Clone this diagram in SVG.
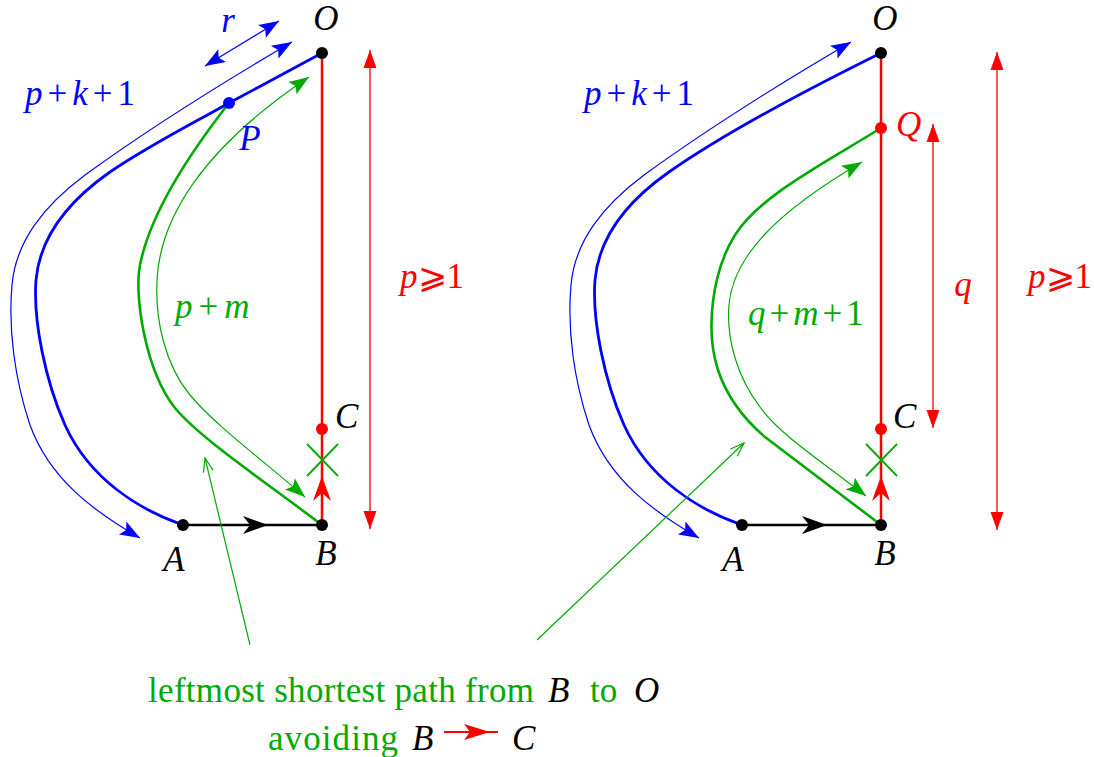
<svg xmlns="http://www.w3.org/2000/svg" width="1094" height="757" viewBox="0 0 1094 757" font-family="Liberation Serif, Times New Roman, DejaVu Serif, serif">
<style>
.m{font-style:italic;font-size:35px}
.u{font-style:normal}
.t{font-size:35px;fill:#00aa00}
.bl{fill:#0000ff}.gr{fill:#00aa00}.rd{fill:#ff0000}.bk{fill:#000}
.thickB{fill:none;stroke:#0000ff;stroke-width:2.8}
.thinB{fill:none;stroke:#0000ff;stroke-width:1.2}
.thickG{fill:none;stroke:#00aa00;stroke-width:2.6}
.thinG{fill:none;stroke:#00aa00;stroke-width:1.2}
.redL{fill:none;stroke:#ff0000;stroke-width:2.5}
.redT{fill:none;stroke:#ff0000;stroke-width:1.3}
.blkL{fill:none;stroke:#000;stroke-width:2.5}
</style>
<defs>
<marker id="bh" markerUnits="userSpaceOnUse" orient="auto-start-reverse" overflow="visible" refX="0" refY="0" markerWidth="1" markerHeight="1"><path d="M0,0 L-20,-7.5 L-16,0 L-20,7.5 Z" fill="#0000ff"/></marker>
<marker id="gh" markerUnits="userSpaceOnUse" orient="auto-start-reverse" overflow="visible" refX="0" refY="0" markerWidth="1" markerHeight="1"><path d="M0,0 L-20,-7.5 L-16,0 L-20,7.5 Z" fill="#00aa00"/></marker>
<marker id="rh" markerUnits="userSpaceOnUse" orient="auto-start-reverse" overflow="visible" refX="0" refY="0" markerWidth="1" markerHeight="1"><path d="M0,0 L-18,-6.5 L-18,6.5 Z" fill="#ff0000"/></marker>
<marker id="go" markerUnits="userSpaceOnUse" orient="auto" overflow="visible" refX="0" refY="0" markerWidth="1" markerHeight="1"><path d="M-14,-5 L0,0 L-14,5" fill="none" stroke="#00aa00" stroke-width="1.2"/></marker>
</defs>
<g id="connectors">
<path class="redL" d="M322,53 L322,525"/>
<path class="thinB" marker-start="url(#bh)" marker-end="url(#bh)" d="M140,538 C95,512 50,480 30,425 C15,380 8,330 12,285 C16,240 45,205 85,175 C140,135 210,90 292,42"/>
<path class="thickB" d="M183,525 C140,510 90,480 65,425 C45,380 33,320 36,280 C40,235 70,200 110,172 C150,145 190,125 229,103 L322,53"/>
<path class="thinB" marker-start="url(#bh)" marker-end="url(#bh)" d="M205,66 L279,21"/>
<path class="thickG" d="M229,103 C200,140 152,205 140,265 C134,295 145,370 175,408 C200,438 260,478 322,525"/>
<path class="thinG" marker-start="url(#gh)" marker-end="url(#gh)" d="M305,497 C260,458 215,425 190,395 C165,365 155,320 157,280 C160,220 200,150 309,77"/>
<path class="blkL" d="M183,525 L322,525"/>
<path d="M268,525 L243,516 L250,525 L243,534 Z" class="bk"/>
<path d="M322,476 L331,501 L322,493 L313,501 Z" class="rd"/>
<path class="thickG" d="M307,444 L338,476 M338,444 L307,476" style="stroke-width:1.8"/>
<path class="redT" marker-start="url(#rh)" marker-end="url(#rh)" d="M370,50 L370,529"/>
<path class="thinG" marker-end="url(#go)" d="M250,645 L205,458"/>
<path class="redL" d="M881,53 L881,525"/>
<path class="thinB" marker-start="url(#bh)" marker-end="url(#bh)" d="M699,538 C654,512 609,480 589,425 C574,380 567,330 571,285 C575,240 604,205 644,175 C699,135 769,90 851,42"/>
<path class="thickB" d="M742,525 C699,510 649,480 624,425 C604,380 592,320 595,280 C599,235 629,200 669,172 C712,142 790,98 881,53"/>
<path class="thickG" d="M881,128 C830,160 760,195 735,235 C712,272 705,330 718,370 C728,400 745,420 765,437 L881,525"/>
<path class="thinG" marker-start="url(#gh)" marker-end="url(#gh)" d="M866,496 C820,460 780,435 760,407 C738,378 726,340 729,305 C733,255 780,210 862,162"/>
<path class="blkL" d="M742,525 L881,525"/>
<path d="M827,525 L802,516 L809,525 L802,534 Z" class="bk"/>
<path d="M881,476 L890,501 L881,493 L872,501 Z" class="rd"/>
<path class="thickG" d="M866,444 L897,476 M897,444 L866,476" style="stroke-width:1.8"/>
<path class="redT" marker-start="url(#rh)" marker-end="url(#rh)" d="M933,124 L933,428"/>
<path class="redT" marker-start="url(#rh)" marker-end="url(#rh)" d="M997,52 L997,530"/>
<path class="thinG" marker-end="url(#go)" d="M537,640 L744,443"/>
<path class="redL" d="M444,732 L498,732" style="stroke-width:2.2"/>
<path d="M490,732 L464,724 L470,732 L464,740 Z" class="rd"/>
</g>
<g id="node-O-left"><circle cx="322" cy="53" r="6" class="bk"/><text class="m bk" x="326" y="30" text-anchor="middle">O</text></g>
<g id="node-P"><circle cx="229" cy="103" r="6" class="bl"/><text class="m bl" x="250" y="150" text-anchor="middle">P</text></g>
<g id="node-C-left"><circle cx="322" cy="429" r="6" class="rd"/><text class="m bk" x="335" y="428">C</text></g>
<g id="node-A-left"><circle cx="183" cy="525" r="6" class="bk"/><text class="m bk" x="174" y="571" text-anchor="middle">A</text></g>
<g id="node-B-left"><circle cx="322" cy="525" r="6" class="bk"/><text class="m bk" x="326" y="565" text-anchor="middle">B</text></g>
<g id="labels-left">
<text class="m bl" x="228" y="32" text-anchor="middle">r</text>
<text class="m bl" x="25" y="105">p<tspan class="u" dx="5">+</tspan><tspan dx="5">k</tspan><tspan class="u" dx="5">+</tspan><tspan class="u" dx="5">1</tspan></text>
<text class="m gr" x="175" y="318">p<tspan class="u" dx="6">+</tspan><tspan dx="6">m</tspan></text>
<text class="m rd" x="400" y="288">p<tspan class="u">⩾1</tspan></text>
</g>
<g id="node-O-right"><circle cx="881" cy="53" r="6" class="bk"/><text class="m bk" x="885" y="30" text-anchor="middle">O</text></g>
<g id="node-Q"><circle cx="881" cy="128" r="6" class="rd"/><text class="m rd" x="896" y="136">Q</text></g>
<g id="node-C-right"><circle cx="881" cy="429" r="6" class="rd"/><text class="m bk" x="893" y="428">C</text></g>
<g id="node-A-right"><circle cx="742" cy="525" r="6" class="bk"/><text class="m bk" x="733" y="571" text-anchor="middle">A</text></g>
<g id="node-B-right"><circle cx="881" cy="525" r="6" class="bk"/><text class="m bk" x="885" y="565" text-anchor="middle">B</text></g>
<g id="labels-right">
<text class="m bl" x="584" y="105">p<tspan class="u" dx="5">+</tspan><tspan dx="5">k</tspan><tspan class="u" dx="5">+</tspan><tspan class="u" dx="5">1</tspan></text>
<text class="m gr" x="748" y="325">q<tspan class="u" dx="4">+</tspan><tspan dx="4">m</tspan><tspan class="u" dx="4">+</tspan><tspan class="u" dx="4">1</tspan></text>
<text class="m rd" x="963" y="296" text-anchor="middle">q</text>
<text class="m rd" x="1028" y="288">p<tspan class="u">⩾1</tspan></text>
</g>
<g id="legend">
<text class="t" y="702"><tspan x="148" textLength="386" lengthAdjust="spacing">leftmost shortest path from</tspan><tspan class="m bk" x="548">B</tspan><tspan x="590">to</tspan><tspan class="m bk" x="634">O</tspan></text>
<text class="t" y="750"><tspan x="268" textLength="130" lengthAdjust="spacing">avoiding</tspan><tspan class="m bk" x="412">B</tspan></text>
<text class="m bk" x="512" y="750">C</text>
</g>
</svg>
